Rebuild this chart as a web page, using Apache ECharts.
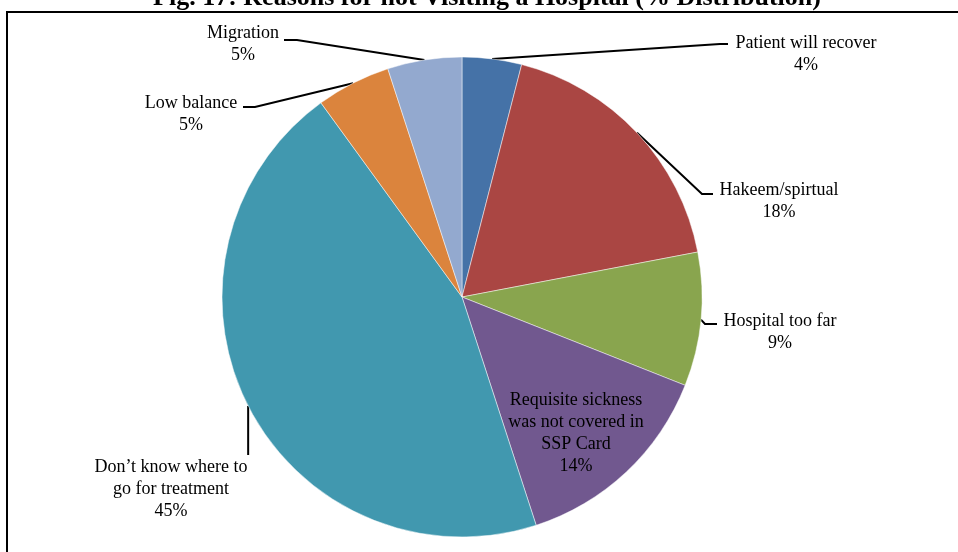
<!DOCTYPE html>
<html>
<head>
<meta charset="utf-8">
<script src="https://cdn.jsdelivr.net/npm/echarts@6/dist/echarts.min.js"></script>
<style>
  html, body { margin: 0; padding: 0; background: #fff; }
  #chart { width: 958px; height: 552px; }
</style>
</head>
<body>
<div id="chart"></div>
<script>
// Reasons for not visiting a hospital, % distribution (clockwise from 12 o'clock)
const categories = [
  'Patient will recover',
  'Hakeem/spirtual',
  'Hospital too far',
  'Requisite sickness\nwas not covered in\nSSP Card',
  'Don\u2019t know where to\ngo for treatment',
  'Low balance',
  'Migration'
];
const shares = [4, 18, 9, 14, 45, 5, 5];
const sliceColors = ['#4572A7', '#AA4643', '#89A54E', '#71588F', '#4198AF', '#DB843D', '#93A9CF'];

// Label placement: text block centre x, top y, and the leader's bend/end points
const labelSpots = [
  { cx: 806, top: 32, line: [[720, 44], [728, 44]] },
  { cx: 779, top: 179, line: [[702, 194], [713, 194]] },
  { cx: 780, top: 310, line: [[705, 324], [717, 324]] },
  { cx: 576, top: 389, line: null },
  { cx: 171, top: 456, line: 'down', endY: 455 },
  { cx: 191, top: 92, line: [[255, 107], [243, 107]] },
  { cx: 243, top: 22, line: [[297, 40], [284, 40]] }
];

const chart = echarts.init(document.getElementById('chart'), null, { renderer: 'canvas' });

const serif = '"Liberation Serif", "Times New Roman", serif';

chart.setOption({
  backgroundColor: '#ffffff',
  animation: false,
  title: {
    text: 'Fig. 17: Reasons for not Visiting a Hospital (% Distribution)',
    left: 482,
    textAlign: 'center',
    top: -20,
    textStyle: { fontFamily: serif, fontWeight: 'bold', fontSize: 26, color: '#000' }
  },
  graphic: [{
    type: 'rect',
    shape: { x: 7, y: 12, width: 1000, height: 1000 },
    style: { fill: 'none', stroke: '#000', lineWidth: 2 },
    silent: true
  }],
  series: [{
    type: 'pie',
    center: [462, 297],
    radius: 240,
    startAngle: 90,
    clockwise: true,
    avoidLabelOverlap: false,
    itemStyle: { borderColor: 'rgba(255,255,255,0.6)', borderWidth: 0.8 },
    label: {
      show: true,
      position: 'outside',
      fontFamily: serif,
      fontSize: 18,
      lineHeight: 22,
      color: '#000',
      align: 'center',
      formatter: (p) => p.name + '\n' + p.percent + '%'
    },
    labelLine: {
      show: true,
      lineStyle: { color: '#000', width: 2 }
    },
    labelLayout: (params) => {
      const spot = labelSpots[params.dataIndex];
      const res = { x: spot.cx, y: spot.top, align: 'center', verticalAlign: 'top' };
      const pts = params.labelLinePoints;
      if (pts && spot.line) {
        const start = pts[0];
        if (spot.line === 'down') {
          res.labelLinePoints = [start, [start[0], spot.endY], [start[0], spot.endY]];
        } else {
          res.labelLinePoints = [start, spot.line[0], spot.line[1]];
        }
      }
      return res;
    },
    data: categories.map((name, i) => ({
      name: name,
      value: shares[i],
      itemStyle: { color: sliceColors[i] },
      labelLine: { show: labelSpots[i].line !== null }
    }))
  }]
});
</script>
</body>
</html>
